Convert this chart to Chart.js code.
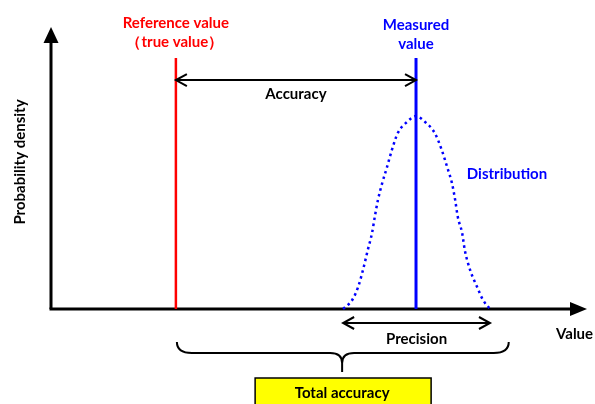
<!DOCTYPE html>
<html>
<head>
<meta charset="utf-8">
<script src="https://cdn.jsdelivr.net/npm/chart.js@4.4.0/dist/chart.umd.min.js"></script>
<style>
html, body { margin: 0; padding: 0; background: #ffffff; }
#wrap { width: 595px; height: 404px; position: relative; }
</style>
</head>
<body>
<div id="wrap"><canvas id="chart"></canvas></div>
<script>
// Valores (eje normalizado 0-100)
const markerX = [23.3, 68.1];          // valor de referencia, valor medido
const markerTop = [89, 89];
const distX = [54.5, 56.2, 57.3, 58.2, 59.1, 59.9, 60.4, 61.0, 61.8, 62.7, 63.6, 64.7, 66.4, 68.1,
               69.8, 71.6, 72.9, 73.9, 74.8, 75.4, 75.9, 76.7, 77.2, 78.2, 79.5, 80.6, 81.9];
const distY = [0, 3.2, 7.8, 13.8, 20.9, 27.0, 32.6, 38.7, 44.7, 50.4, 56.4, 62.4, 66.3, 68.4,
               66.3, 62.4, 56.4, 50.4, 44.7, 38.7, 32.6, 27.0, 20.9, 13.8, 7.8, 3.2, 0];
const accuracyY = 81.2;
const precisionRange = [54.5, 81.9];
const totalRange = [23.3, 85.4];
const markerLabels = [['Reference value', '（true value）'], ['Measured', 'value']];
const axisTitles = ['Value', 'Probability density'];

const colors = {
    red: '#ff0000',
    blue: '#0000ff',
    black: '#000000',
    yellow: '#ffff00'
};
const FONT = "bold 15px Lato, 'Liberation Sans', sans-serif";

function openArrow(ctx, x1, x2, y) {
    ctx.beginPath();
    ctx.moveTo(x1, y);
    ctx.lineTo(x2, y);
    ctx.moveTo(x1 + 11, y - 6);
    ctx.lineTo(x1, y);
    ctx.lineTo(x1 + 11, y + 6);
    ctx.moveTo(x2 - 11, y - 6);
    ctx.lineTo(x2, y);
    ctx.lineTo(x2 - 11, y + 6);
    ctx.stroke();
}

const diagramPlugin = {
    id: 'diagram',
    beforeDatasetsDraw(chart) {
        const ctx = chart.ctx;
        const a = chart.chartArea;
        ctx.save();
        ctx.strokeStyle = colors.black;
        ctx.fillStyle = colors.black;
        ctx.lineWidth = 3;
        // eje Y
        ctx.beginPath();
        ctx.moveTo(a.left, a.bottom);
        ctx.lineTo(a.left, a.top + 14);
        ctx.stroke();
        ctx.beginPath();
        ctx.moveTo(a.left, a.top);
        ctx.lineTo(a.left - 7.5, a.top + 16);
        ctx.lineTo(a.left + 7.5, a.top + 16);
        ctx.closePath();
        ctx.fill();
        // eje X
        ctx.beginPath();
        ctx.moveTo(a.left - 1.5, a.bottom);
        ctx.lineTo(a.right - 14, a.bottom);
        ctx.stroke();
        ctx.beginPath();
        ctx.moveTo(a.right, a.bottom);
        ctx.lineTo(a.right - 17, a.bottom - 7);
        ctx.lineTo(a.right - 17, a.bottom + 7);
        ctx.closePath();
        ctx.fill();
        ctx.restore();
    },
    afterDraw(chart) {
        const ctx = chart.ctx;
        const a = chart.chartArea;
        const xs = chart.scales.x;
        const ys = chart.scales.y;
        const refPx = xs.getPixelForValue(markerX[0]);
        const measPx = xs.getPixelForValue(markerX[1]);
        ctx.save();
        ctx.font = FONT;
        ctx.textAlign = 'center';
        ctx.textBaseline = 'middle';

        // etiquetas superiores
        ctx.fillStyle = colors.red;
        ctx.fillText(markerLabels[0][0], refPx, 23);
        ctx.fillText(markerLabels[0][1], refPx - 1, 42);
        ctx.fillStyle = colors.blue;
        ctx.fillText(markerLabels[1][0], measPx, 25);
        ctx.fillText(markerLabels[1][1], measPx, 44);

        // flecha de exactitud
        ctx.strokeStyle = colors.black;
        ctx.lineWidth = 2;
        const accPx = ys.getPixelForValue(accuracyY);
        openArrow(ctx, refPx, measPx, accPx);
        ctx.fillStyle = colors.black;
        ctx.fillText('Accuracy', (refPx + measPx) / 2, accPx + 14);

        // distribución
        ctx.fillStyle = colors.blue;
        ctx.fillText('Distribution', 507, 174);

        // flecha de precisión
        const p1 = xs.getPixelForValue(precisionRange[0]);
        const p2 = xs.getPixelForValue(precisionRange[1]);
        const precY = a.bottom + 14;
        openArrow(ctx, p1, p2, precY);
        ctx.fillStyle = colors.black;
        ctx.fillText('Precision', (p1 + p2) / 2, precY + 16);

        // títulos de ejes
        ctx.textAlign = 'left';
        ctx.fillText(axisTitles[0], 556, 334);
        ctx.save();
        ctx.translate(20, 162);
        ctx.rotate(-Math.PI / 2);
        ctx.textAlign = 'center';
        ctx.fillText(axisTitles[1], 0, 0);
        ctx.restore();

        // llave de exactitud total
        const b1 = xs.getPixelForValue(totalRange[0]) + 1;
        const b2 = xs.getPixelForValue(totalRange[1]);
        const tip = p1 - 1;
        const top = a.bottom + 33, mid = a.bottom + 44, tipY = a.bottom + 63;
        ctx.lineWidth = 2;
        ctx.beginPath();
        ctx.moveTo(b1, top);
        ctx.quadraticCurveTo(b1, mid, b1 + 15, mid);
        ctx.lineTo(tip - 12, mid);
        ctx.quadraticCurveTo(tip, mid, tip, mid + 10);
        ctx.lineTo(tip, tipY);
        ctx.moveTo(tip, mid + 10);
        ctx.quadraticCurveTo(tip, mid, tip + 12, mid);
        ctx.lineTo(b2 - 15, mid);
        ctx.quadraticCurveTo(b2, mid, b2, top);
        ctx.stroke();

        // caja
        const boxTop = a.bottom + 69;
        ctx.fillStyle = colors.yellow;
        ctx.fillRect(tip - 87, boxTop, 176, 40);
        ctx.lineWidth = 1.5;
        ctx.strokeRect(tip - 87, boxTop, 176, 40);
        ctx.fillStyle = colors.black;
        ctx.textAlign = 'center';
        ctx.fillText('Total accuracy', tip, boxTop + 15);
        ctx.restore();
    }
};

new Chart(document.getElementById('chart'), {
    type: 'line',
    data: {
        datasets: [
            {
                label: 'Measured value',
                data: [{ x: markerX[1], y: 0 }, { x: markerX[1], y: markerTop[1] }],
                borderColor: colors.blue,
                borderWidth: 3,
                pointRadius: 0,
                clip: false
            },
            {
                label: 'Reference value',
                data: [{ x: markerX[0], y: 0 }, { x: markerX[0], y: markerTop[0] }],
                borderColor: colors.red,
                borderWidth: 2.5,
                pointRadius: 0,
                clip: false
            },
            {
                label: 'Distribution',
                data: distX.map((x, i) => ({ x: x, y: distY[i] })),
                borderColor: colors.blue,
                borderWidth: 2.5,
                borderDash: [2.5, 3.5],
                pointRadius: 0,
                cubicInterpolationMode: 'monotone',
                clip: false
            }
        ]
    },
    options: {
        responsive: true,
        maintainAspectRatio: false,
        animation: false,
        events: [],
        layout: { padding: { left: 51, right: 8, top: 27, bottom: 95 } },
        scales: {
            x: { type: 'linear', min: 0, max: 100, display: false },
            y: { type: 'linear', min: 0, max: 100, display: false }
        },
        plugins: {
            legend: { display: false },
            tooltip: { enabled: false }
        }
    },
    plugins: [diagramPlugin]
});
</script>
</body>
</html>
